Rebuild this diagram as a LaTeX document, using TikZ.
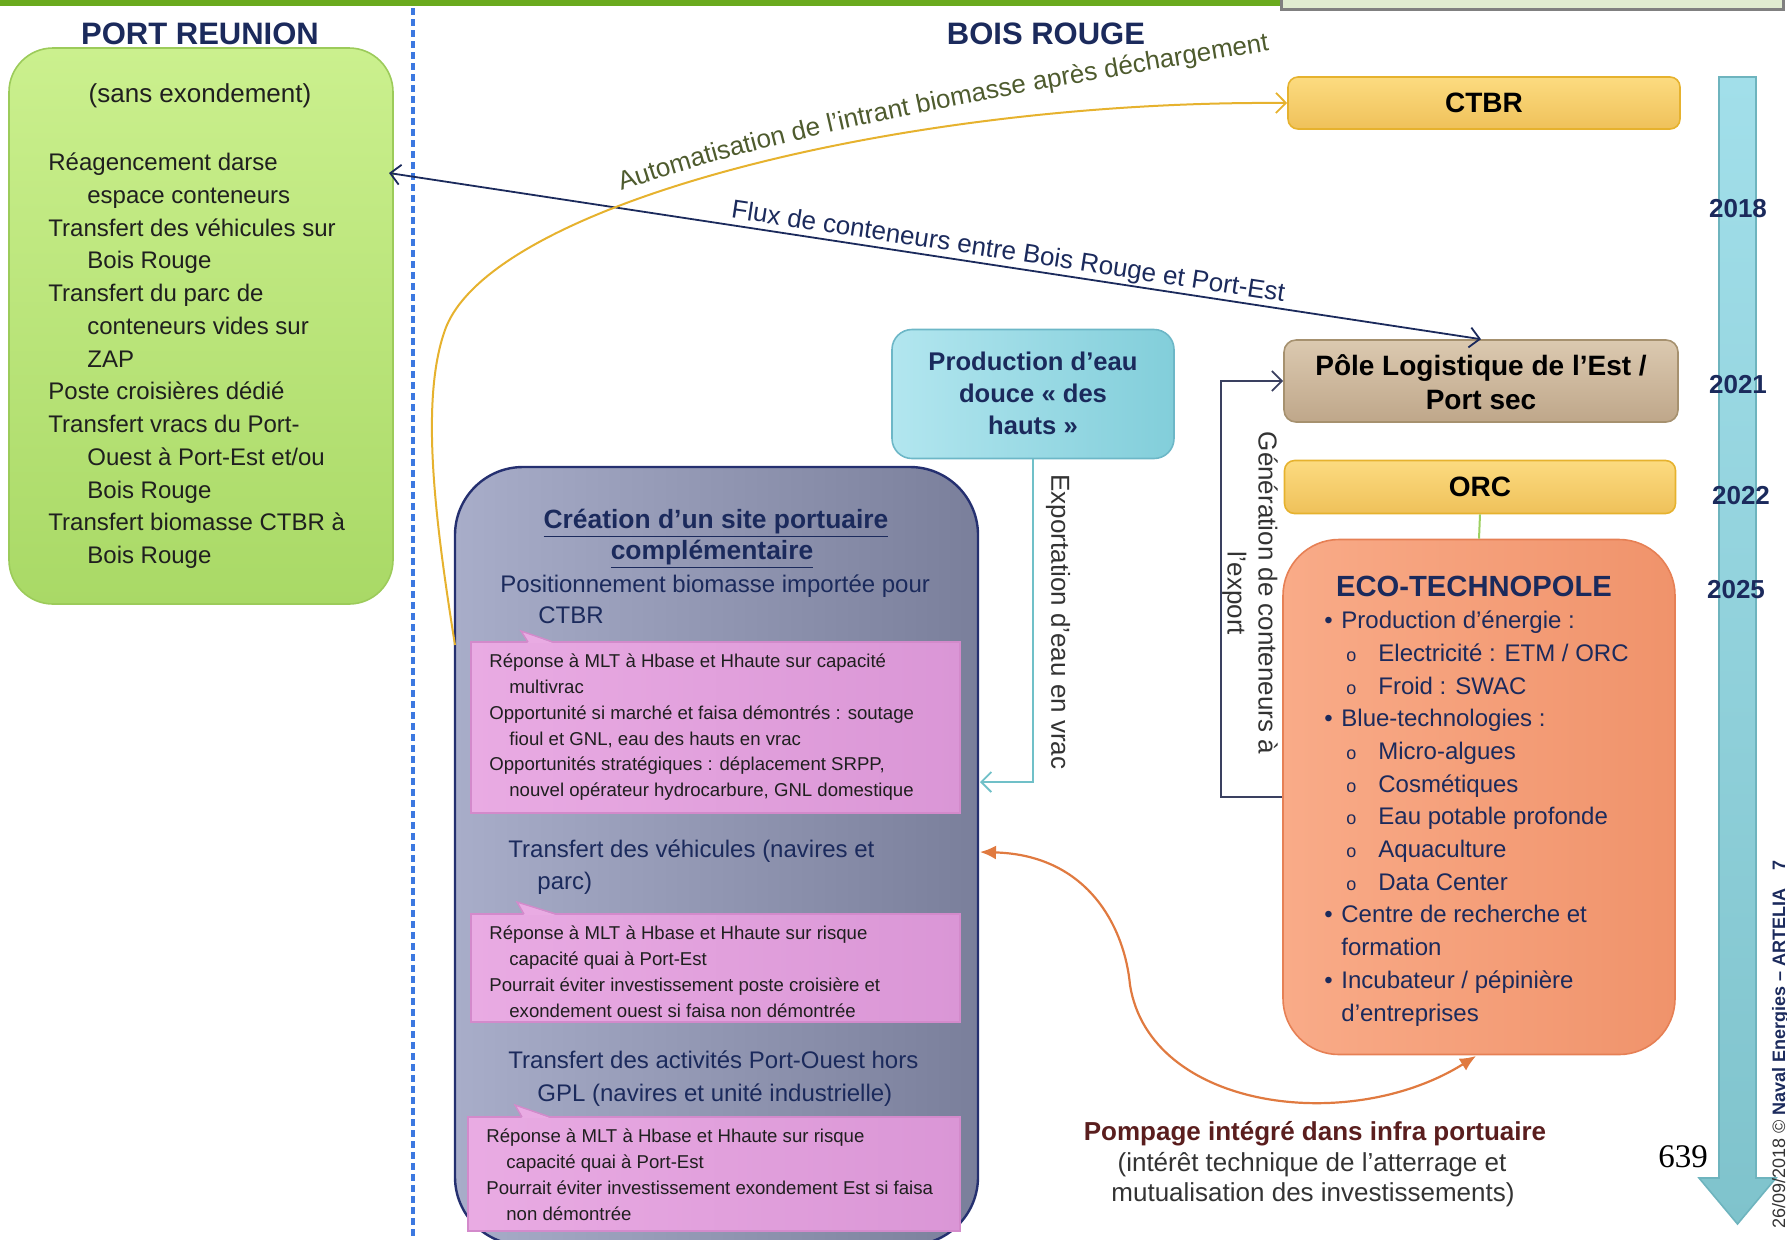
\documentclass[tikz,border=0pt]{standalone}
\usepackage{fontspec}
\setmainfont{Liberation Sans}
\newfontfamily\timesfont{Liberation Serif}
\usetikzlibrary{arrows.meta,decorations.text}
\definecolor{navy}{HTML}{1B2A5C}
\definecolor{topgreen}{HTML}{6AAA1E}
\definecolor{tbox}{HTML}{E0ECD0}
\definecolor{gtop}{HTML}{CBF08E}
\definecolor{gbot}{HTML}{A9D966}
\definecolor{gbord}{HTML}{9CCB5A}
\definecolor{ptop}{HTML}{A8ADC9}
\definecolor{pbot}{HTML}{7A7F9B}
\definecolor{pbord}{HTML}{253070}
\definecolor{pinkL}{HTML}{E9ABE3}
\definecolor{pinkR}{HTML}{DA96D6}
\definecolor{pinkB}{HTML}{D38ACB}
\definecolor{ecoL}{HTML}{F9AB88}
\definecolor{ecoR}{HTML}{F0936B}
\definecolor{ecoB}{HTML}{E68055}
\definecolor{goldT}{HTML}{FCDB80}
\definecolor{goldB}{HTML}{EFC15A}
\definecolor{goldD}{HTML}{E6B22E}
\definecolor{tanT}{HTML}{DBC9B0}
\definecolor{tanB}{HTML}{BFA78A}
\definecolor{tanD}{HTML}{A6916F}
\definecolor{aquaT}{HTML}{B2E6EF}
\definecolor{aquaB}{HTML}{82CEDA}
\definecolor{aquaD}{HTML}{6DB7C7}
\definecolor{tlT}{HTML}{A2DFEA}
\definecolor{tlB}{HTML}{7FC3CC}
\definecolor{tlD}{HTML}{6EB4BE}
\definecolor{dashblue}{HTML}{3C78E0}
\definecolor{orangec}{HTML}{E07A40}
\definecolor{olivetxt}{HTML}{4E5B2E}
\definecolor{maroon}{HTML}{5A1E1E}
\definecolor{graytxt}{HTML}{333333}
\definecolor{limeline}{HTML}{9CD060}
\definecolor{genline}{HTML}{3A4060}
\definecolor{tealline}{HTML}{70C0C8}
\newcommand\autofont{\fontsize{13}{15}\selectfont}
\tikzset{
  barb/.tip={Straight Barb[length=5pt,width=10pt,line width=0.9pt]},
  tri/.tip={Latex[length=8pt,width=7pt]},
  gtxt/.style={anchor=base west, inner sep=0pt, font=\fontsize{12}{14}\selectfont, text=black!88},
  ptxt/.style={anchor=base west, inner sep=0pt, font=\fontsize{9.3}{11}\selectfont, text=black!88},
  vtxt/.style={anchor=base west, inner sep=0pt, font=\fontsize{12}{14}\selectfont, text=navy},
  etxt/.style={anchor=base west, inner sep=0pt, font=\fontsize{12}{14}\selectfont, text=navy},
  headtxt/.style={inner sep=0pt, font=\bfseries\fontsize{15.5}{18}\selectfont, text=navy},
  yeartxt/.style={inner sep=0pt, font=\bfseries\fontsize{13}{15}\selectfont, text=navy},
  goldbox/.style={draw=goldD, line width=0.8pt, rounded corners=5pt, top color=goldT, bottom color=goldB, font=\bfseries\fontsize{14}{16}\selectfont, text=black},
  pinkbox/.style={draw=pinkB, line width=0.7pt, left color=pinkL, right color=pinkR},
}
\begin{document}
\begin{tikzpicture}[x=0.5pt,y=-0.5pt]
\useasboundingbox (0,0) rectangle (1787,1239);
% top bar
\fill[topgreen] (0,-5) rectangle (1282,6);
\draw[gray, line width=1.5pt, fill=tbox] (1281,-10) rectangle (1783,9);
% dashed separator
\draw[dashblue, line width=1.7pt, dash pattern=on 3.5pt off 2pt] (413,8) -- (413,1239);
% headings
\node[headtxt] (portreunion) at (200,34) {PORT REUNION};
\node[headtxt] (boisrouge) at (1046,34) {BOIS ROUGE};
% green box
\node[draw=gbord, line width=0.8pt, rounded corners=22pt, top color=gtop, bottom color=gbot, minimum width=192pt, minimum height=278pt] (green) at (201,326) {};
\node[inner sep=0pt, font=\fontsize{13}{15}\selectfont, text=black!88, anchor=base] (sans) at (200,102) {(sans exondement)};
\foreach \i/\x/\t in {0/48/{Réagencement darse}, 1/87/{espace conteneurs}, 2/48/{Transfert des véhicules sur}, 3/87/{Bois Rouge}, 4/48/{Transfert du parc de}, 5/87/{conteneurs vides sur}, 6/87/{ZAP}, 7/48/{Poste croisières dédié}, 8/48/{Transfert vracs du Port-}, 9/87/{Ouest à Port-Est et/ou}, 10/87/{Bois Rouge}, 11/48/{Transfert biomasse CTBR à}, 12/87/{Bois Rouge}}
  \node[gtxt] (g\i) at (\x, 170.6+32.75*\i) {\t};
% timeline arrow
\draw[tlD, line width=0.8pt, top color=tlT, bottom color=tlB] (1719,77) -- (1756,77) -- (1756,1178) -- (1776,1178) -- (1737.5,1224) -- (1699,1178) -- (1719,1178) -- cycle;
\node[yeartxt] (y2018) at (1738,209) {2018};
\node[yeartxt] (y2021) at (1738,385) {2021};
\node[yeartxt] (y2022) at (1741,496) {2022};
\node[yeartxt] (y2025) at (1736,590) {2025};
\node[rotate=90, anchor=base east, inner sep=0pt, font=\fontsize{9}{10}\selectfont, text=navy] (footer) at (1785,860) {\textcolor{graytxt}{26/09/2018 ©} \textbf{Naval Energies – ARTELIA}\hspace{9pt}\textbf{7}};
% right boxes
\node[goldbox, minimum width=196pt, minimum height=26pt] (ctbr) at (1484,103) {CTBR};
\node[draw=tanD, line width=0.8pt, rounded corners=6pt, top color=tanT, bottom color=tanB, minimum width=197pt, minimum height=41pt] (pole) at (1481,381) {};
\node[inner sep=0pt, anchor=base, font=\bfseries\fontsize{14}{16}\selectfont] (pole1) at (1481,375) {Pôle Logistique de l’Est /};
\node[inner sep=0pt, anchor=base, font=\bfseries\fontsize{14}{16}\selectfont] (pole2) at (1481,409) {Port sec};
\node[goldbox, minimum width=195.5pt, minimum height=26.5pt] (orc) at (1480,487) {ORC};
\node[draw=ecoB, line width=0.8pt, rounded corners=28pt, left color=ecoL, right color=ecoR, minimum width=196pt, minimum height=257.5pt] (eco) at (1479,797) {};
\node[inner sep=0pt, anchor=base, font=\bfseries\fontsize{14.6}{17}\selectfont, text=navy] (ecotitle) at (1474,596.5) {ECO-TECHNOPOLE};
\foreach \i/\x/\t in {0/1341/{Production d'énergie :}, 1/1378/{Electricité : ETM / ORC}, 2/1378/{Froid : SWAC}, 3/1341/{Blue-technologies :}, 4/1378/{Micro-algues}, 5/1378/{Cosmétiques}, 6/1378/{Eau potable profonde}, 7/1378/{Aquaculture}, 8/1378/{Data Center}, 9/1341/{Centre de recherche et}, 10/1341/{formation}, 11/1341/{Incubateur / pépinière}, 12/1341/{d'entreprises}}
  \node[etxt] (e\i) at (\x, 628.6+32.7*\i) {\t};
\foreach \i in {0,3,9,11}
  \node[etxt] (eb\i) at (1324, 628.6+32.7*\i) {•};
\foreach \i in {1,2,4,5,6,7,8}
  \node[etxt, font=\fontsize{9}{10}\selectfont] (es\i) at (1346, 628.6+32.7*\i) {o};
% production d'eau
\node[draw=aquaD, line width=0.8pt, rounded corners=10pt, left color=aquaT, right color=aquaB, minimum width=141pt, minimum height=64.5pt] (prod) at (1033,394) {};
\foreach \i/\t in {0/{Production d’eau}, 1/{douce « des}, 2/{hauts »}}
  \node[inner sep=0pt, anchor=base, font=\bfseries\fontsize{12.8}{15}\selectfont, text=navy] (pr\i) at (1033, 370+32*\i) {\t};
% purple box
\node[draw=pbord, line width=1.2pt, rounded corners=34pt, left color=ptop, right color=pbot, minimum width=261.5pt, minimum height=389pt] (purple) at (716.5,856) {};
\node[inner sep=0pt, anchor=base, font=\bfseries\fontsize{13.2}{15}\selectfont, text=navy] (ptitle1) at (716,528) {\underline{Création d’un site portuaire}};
\node[inner sep=0pt, anchor=base, font=\bfseries\fontsize{13.2}{15}\selectfont, text=navy] (ptitle2) at (712,559) {\underline{complémentaire}};
\node[vtxt] (v1) at (500,592.6) {Positionnement biomasse importée pour};
\node[vtxt] (v2) at (538,623.6) {CTBR};
\node[vtxt] (v3) at (508,857.6) {Transfert des véhicules (navires et};
\node[vtxt] (v4) at (537,889.6) {parc)};
\node[vtxt] (v5) at (508,1068.6) {Transfert des activités Port-Ouest hors};
\node[vtxt] (v6) at (537,1101.6) {GPL (navires et unité industrielle)};
% pink callouts
\node[pinkbox, minimum width=244.5pt, minimum height=85.5pt] (pink1) at (715.5,727.5) {};
\fill[pinkL] (521,631) -- (553,643) -- (528,643) -- cycle;
\draw[pinkB, line width=0.7pt] (528,642) -- (521,631) -- (553,642);
\node[pinkbox, minimum width=244.5pt, minimum height=54pt] (pink2) at (715.5,968) {};
\fill[pinkL] (517,902) -- (556,915) -- (524,915) -- cycle;
\draw[pinkB, line width=0.7pt] (524,914) -- (517,902) -- (556,914);
\node[pinkbox, minimum width=246pt, minimum height=57pt] (pink3) at (714,1174) {};
\fill[pinkL] (515,1105) -- (550,1118) -- (522,1118) -- cycle;
\draw[pinkB, line width=0.7pt] (522,1117) -- (515,1105) -- (550,1117);
\foreach \i/\x/\t in {0/489/{Réponse à MLT à Hbase et Hhaute sur capacité}, 1/509/{multivrac}, 2/489/{Opportunité si marché et faisa démontrés : soutage}, 3/509/{fioul et GNL, eau des hauts en vrac}, 4/489/{Opportunités stratégiques : déplacement SRPP,}, 5/509/{nouvel opérateur hydrocarbure, GNL domestique}}
  \node[ptxt] (pa\i) at (\x, 667.7+25.8*\i) {\t};
\foreach \i/\x/\t in {0/489/{Réponse à MLT à Hbase et Hhaute sur risque}, 1/509/{capacité quai à Port-Est}, 2/489/{Pourrait éviter investissement poste croisière et}, 3/509/{exondement ouest si faisa non démontrée}}
  \node[ptxt] (pb\i) at (\x, 939.7+25.8*\i) {\t};
\foreach \i/\x/\t in {0/486/{Réponse à MLT à Hbase et Hhaute sur risque}, 1/506/{capacité quai à Port-Est}, 2/486/{Pourrait éviter investissement exondement Est si faisa}, 3/506/{non démontrée}}
  \node[ptxt] (pc\i) at (\x, 1142.7+25.8*\i) {\t};
% connectors
\coordinate (fluxL) at (389,173);
\coordinate (yStart) at (455,645);
\coordinate (exportEnd) at (980,782);
\coordinate (pompL) at (980,852);
\coordinate (pompR) at (1476,1056);
\draw[navy, line width=0.9pt, barb-barb] (fluxL) -- node[sloped, above=0.5pt, pos=0.565, inner sep=0pt, font=\fontsize{13}{15}\selectfont, text=navy] (fluxlabel) {Flux de conteneurs entre Bois Rouge et Port-Est} (pole.north);
\draw[goldD, line width=1pt, -barb] (yStart) .. controls (435,520) and (420,400) .. (445,330) .. controls (490,204) and (900,100) .. (ctbr.west);
\path[decorate, decoration={text along path, text align=center, text color=olivetxt, text={|\autofont|Automatisation de l'intrant biomasse après déchargement}}] (606,196) .. controls (795,128) and (1060,85) .. (1285,48);
\draw[limeline, line width=1pt] (orc.south) -- (eco.north);
\draw[genline, line width=0.9pt, -barb] (eco.west) -- ++(-61,0) |- (pole.west);
\node[rotate=-90, align=center, inner sep=0pt, font=\fontsize{13}{15.5}\selectfont, text=graytxt] (genlabel) at (1250,593) {Génération de conteneurs à\\l'export};
\draw[tealline, line width=1pt, -barb] (prod.south) |- (exportEnd);
\node[rotate=-90, inner sep=0pt, font=\fontsize{13}{15}\selectfont, text=graytxt] (explabel) at (1058,622) {Exportation d'eau en vrac};
\draw[orangec, line width=1.1pt, tri-tri] (pompL) .. controls (1090,855) and (1125,930) .. (1130,985) .. controls (1150,1110) and (1350,1135) .. (pompR);
% pompage text
\node[inner sep=0pt, anchor=base, font=\bfseries\fontsize{13}{15}\selectfont, text=maroon] (pomp1) at (1315,1140) {Pompage intégré dans infra portuaire};
\node[inner sep=0pt, anchor=base, font=\fontsize{13}{15}\selectfont, text=graytxt] (pomp2) at (1312,1171.6) {(intérêt technique de l'atterrage et};
\node[inner sep=0pt, anchor=base, font=\fontsize{13}{15}\selectfont, text=graytxt] (pomp3) at (1313,1201.6) {mutualisation des investissements)};
\node[inner sep=0pt, font=\timesfont\fontsize{16.5}{18}\selectfont] (pagenum) at (1683,1157) {639};
\end{tikzpicture}
\end{document}
